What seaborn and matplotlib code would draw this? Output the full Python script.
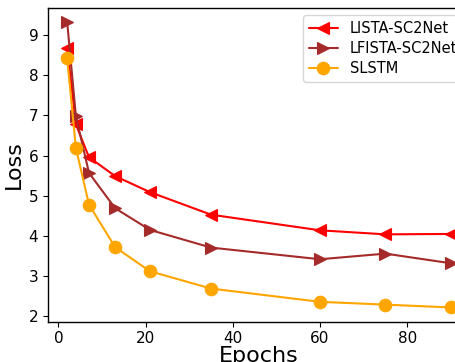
import numpy as np
import pandas as pd
import matplotlib
matplotlib.use('Agg')
import matplotlib.pyplot as plt
import seaborn as sns

# Values
epochs = [2, 4, 7, 13, 21, 35, 60, 75, 90]
lista_loss = [8.68, 6.78, 5.96, 5.49, 5.09, 4.53, 4.14, 4.04, 4.05]
lfista_loss = [9.32, 6.98, 5.57, 4.69, 4.15, 3.71, 3.42, 3.56, 3.32]
slstm_loss = [8.42, 6.19, 4.78, 3.72, 3.12, 2.69, 2.36, 2.29, 2.22]

series_names = ['LISTA-SC2Net', 'LFISTA-SC2Net', 'SLSTM']
series_colors = ['red', 'brown', 'orange']
series_markers = ['<', '>', 'o']

df = pd.DataFrame({
    'Epochs': epochs * 3,
    'Loss': lista_loss + lfista_loss + slstm_loss,
    'model': np.repeat(series_names, len(epochs)),
})

sns.set_theme(style='ticks', rc={
    'axes.edgecolor': 'black',
    'axes.linewidth': 1.0,
    'axes.labelcolor': 'black',
    'text.color': 'black',
    'xtick.color': 'black',
    'ytick.color': 'black',
    'xtick.major.size': 3.5,
    'ytick.major.size': 3.5,
    'xtick.major.width': 0.8,
    'ytick.major.width': 0.8,
})
plt.rcParams['font.family'] = ['DejaVu Sans']

fig = plt.figure(figsize=(4.55, 3.62), dpi=100)
# the reference is a crop of a wider figure, so the axes run past the right edge
ax = fig.add_axes([0.1055, 0.1113, 0.9275, 0.8666])

for name, col, mk in zip(series_names, series_colors, series_markers):
    sub = df[df['model'] == name]
    sns.lineplot(data=sub, x='Epochs', y='Loss', ax=ax, color=col, marker=mk,
                 markersize=9, markeredgecolor=col, markeredgewidth=0.8,
                 linewidth=1.5, label=name)

ax.set_xlabel('Epochs', fontsize=16, labelpad=0)
ax.set_ylabel('Loss', fontsize=16, labelpad=3)
ax.tick_params(labelsize=11)
ax.legend(loc='upper right', fontsize=10.5, frameon=True, labelspacing=0.35)

fig.savefig('out.png', dpi=100)
